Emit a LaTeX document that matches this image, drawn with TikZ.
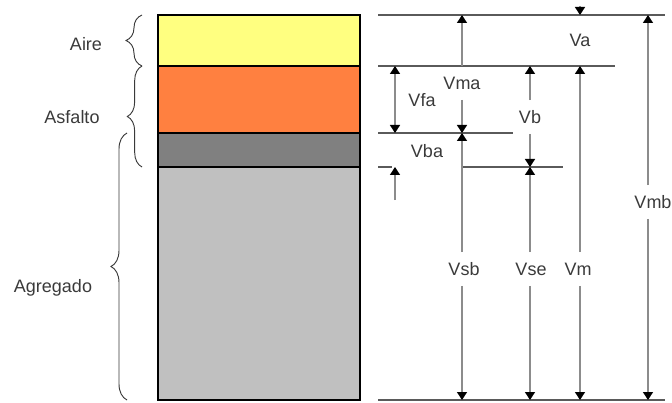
\documentclass[tikz,border=0pt]{standalone}
\usepackage{fontspec}
\setmainfont{Liberation Sans}
\usetikzlibrary{arrows.meta,decorations.pathreplacing}
\definecolor{airecol}{HTML}{FFFF80}
\definecolor{asfcol}{HTML}{FF8040}
\definecolor{bacol}{HTML}{808080}
\definecolor{agrcol}{HTML}{C0C0C0}
\definecolor{txtcol}{HTML}{3A3A3A}
\definecolor{dimcol}{HTML}{8C8C8C}
\definecolor{levcol}{HTML}{5A5A5A}
\tikzset{
  layer/.style={draw=black, line width=2.2pt},
  lbl/.style={font=\fontsize{13.5}{15}\selectfont, text=txtcol, inner sep=2pt},
  dimlbl/.style={lbl, inner sep=0pt, minimum height=25pt},
  level/.style={draw=levcol, line width=1pt},
  dim/.style={draw=dimcol, line width=1pt},
  tip/.style={-{Triangle[length=6pt,width=7.5pt,color=black]}},
  bothtips/.style={{Triangle[length=6pt,width=7.5pt,color=black]}-{Triangle[length=6pt,width=7.5pt,color=black]}},
  curly/.style={draw=txtcol, line width=0.7pt, decorate, decoration={brace, amplitude=#1}}
}
\begin{document}
\begin{tikzpicture}[x=0.75pt, y=-0.75pt]
\useasboundingbox (0,0) rectangle (672,403);

% phase column
\fill[airecol] (158,15) rectangle (360,66);
\fill[asfcol] (158,66) rectangle (360,133);
\fill[bacol] (158,133) rectangle (360,167);
\fill[agrcol] (158,167) rectangle (360,400);
\draw[layer] (158,15) rectangle (360,400);
\draw[layer] (158,66) -- (360,66);
\draw[layer] (158,133) -- (360,133);
\draw[layer] (158,167) -- (360,167);

% braces and phase names
\draw[curly=12pt] (142,66) -- (142,15);
\draw[curly=11pt] (142,167) -- (142,66);
\draw[curly=12pt] (127,400) -- (127,133);
\node[lbl] (aire) at (86,44) {Aire};
\node[lbl] (asfalto) at (72,117) {Asfalto};
\node[lbl] (agregado) at (53,288) {Agregado};

% reference levels
\coordinate (t0) at (378,15);  \coordinate (t1) at (665,15);
\coordinate (a0) at (378,66);  \coordinate (a1) at (615,66);
\coordinate (b0) at (378,133); \coordinate (b1) at (513,133);
\coordinate (s0) at (378,167); \coordinate (s1) at (392,167);
\coordinate (c0) at (462,167); \coordinate (c1) at (563,167);
\coordinate (g0) at (378,400); \coordinate (g1) at (665,400);
\draw[level] (t0) -- (t1);
\draw[level] (a0) -- (a1);
\draw[level] (b0) -- (b1);
\draw[level] (s0) -- (s1);
\draw[level] (c0) -- (c1);
\draw[level] (g0) -- (g1);

% labels
\node[lbl] (va)  at (580,40)  {Va};
\node[dimlbl] (vma) at (462,83)  {Vma};
\node[lbl] (vfa) at (422,100) {Vfa};
\node[dimlbl] (vb)  at (530,117) {Vb};
\node[lbl] (vba) at (427,151) {Vba};
\node[dimlbl] (vmb) at (653,202) {Vmb};
\node[dimlbl] (vsb) at (464,269) {Vsb};
\node[dimlbl] (vse) at (531,269) {Vse};
\node[dimlbl] (vm)  at (578,269) {Vm};

% dimension points
\coordinate (ma0) at (462,15);  \coordinate (ma1) at (462,66);
\coordinate (ma2) at (462,133); \coordinate (ma4) at (462,400);
\coordinate (fa1) at (395,66);  \coordinate (fa2) at (395,133);
\coordinate (fs3) at (395,167); \coordinate (fs5) at (395,200);
\coordinate (vb1) at (530,66);  \coordinate (vb3) at (530,167);
\coordinate (vb4) at (530,400);
\coordinate (vm1) at (580,66);  \coordinate (vm4) at (580,400);
\coordinate (va0) at (580,15);  \coordinate (vaz) at (580,6);
\coordinate (mb0) at (648,15);  \coordinate (mb4) at (648,400);

% dimension arrows
\draw[dim,tip] (ma1) -- (ma0);
\draw[dim,tip] (vma.south) -- (ma2);
\draw[dim,tip] (vsb.north -| ma2) -- (ma2);
\draw[dim,tip] (vsb.south -| ma4) -- (ma4);
\draw[dim,bothtips] (fa1) -- (fa2);
\draw[dim,tip] (fs5) -- (fs3);
\draw[dim,tip] (vb.north -| vb1) -- (vb1);
\draw[dim,tip] (vb.south -| vb3) -- (vb3);
\draw[dim,tip] (vse.north -| vb3) -- (vb3);
\draw[dim,tip] (vse.south -| vb4) -- (vb4);
\draw[dim,tip] (vm.north -| vm1) -- (vm1);
\draw[dim,tip] (vm.south -| vm4) -- (vm4);
\draw[dim,tip] (vaz) -- (va0);
\draw[dim,tip] (vmb.north -| mb0) -- (mb0);
\draw[dim,tip] (vmb.south -| mb4) -- (mb4);
\end{tikzpicture}
\end{document}
